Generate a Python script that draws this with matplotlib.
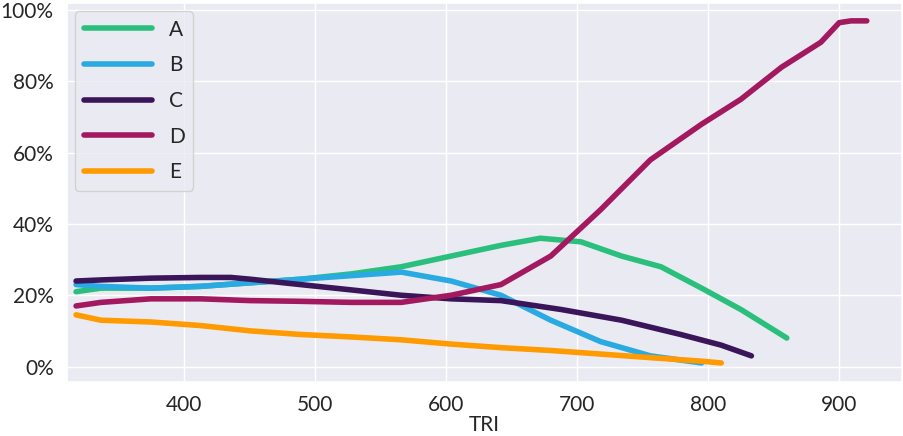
import matplotlib
matplotlib.use("Agg")
import matplotlib.pyplot as plt
import seaborn as sns
from matplotlib.ticker import PercentFormatter

sns.set_theme(style="darkgrid")
plt.rcParams['font.family'] = ['Lato', 'DejaVu Sans']

a_x = [318, 337, 375, 413, 451, 489, 528, 566, 604, 642, 672, 703, 734, 764, 795, 825, 860]
a_y = [21, 22, 22, 22.5, 23.5, 24.5, 26, 28, 31, 34, 36, 35, 31, 28, 22, 16, 8]
b_x = [318, 337, 375, 413, 451, 489, 528, 566, 604, 642, 680, 718, 756, 795]
b_y = [23, 22.5, 22, 22.5, 23.5, 24.5, 25.5, 26.5, 24, 20, 13, 7, 3, 1]
c_x = [318, 337, 375, 413, 436, 451, 489, 528, 566, 604, 642, 688, 734, 779, 810, 833]
c_y = [24, 24.3, 24.8, 25, 25, 24.5, 23, 21.5, 20, 19, 18.5, 16, 13, 9, 6, 3]
d_x = [318, 337, 375, 413, 451, 489, 528, 566, 604, 642, 680, 718, 756, 795, 825, 856, 886, 900, 909, 921]
d_y = [17, 18, 19, 19, 18.5, 18.3, 18, 18, 20, 23, 31, 44, 58, 68, 75, 84, 91, 96.5, 97, 97]
e_x = [318, 337, 375, 413, 451, 489, 528, 566, 604, 642, 680, 718, 756, 795, 810]
e_y = [14.5, 13, 12.5, 11.5, 10, 9, 8.3, 7.5, 6.3, 5.3, 4.5, 3.5, 2.5, 1.5, 1]

series = [("A", a_x, a_y, "#2bbf7e"), ("B", b_x, b_y, "#2aaae2"),
          ("C", c_x, c_y, "#3a1559"), ("D", d_x, d_y, "#a3195f"),
          ("E", e_x, e_y, "#ff9a00")]

fig, ax = plt.subplots(figsize=(9.04, 4.36), dpi=100)
for name, x, y, col in series:
    ax.plot(x, y, color=col, lw=4, label=name, solid_capstyle='round')

ax.set_xlim(311, 948)
ax.set_ylim(-4.2, 102)
ax.yaxis.set_major_formatter(PercentFormatter(decimals=0))
ax.set_yticks([0, 20, 40, 60, 80, 100])
ax.set_xticks([400, 500, 600, 700, 800, 900])
ax.tick_params(labelsize=15)
ax.set_xlabel("TRI", fontsize=15, labelpad=0)
leg = ax.legend(loc="upper left", fontsize=15, handlelength=3.3, labelspacing=0.75,
                frameon=True, borderaxespad=0.4)
for line in leg.get_lines():
    line.set_linewidth(4)
fig.subplots_adjust(left=0.074, right=0.998, top=0.993, bottom=0.125)
fig.savefig("out.png", dpi=100)
